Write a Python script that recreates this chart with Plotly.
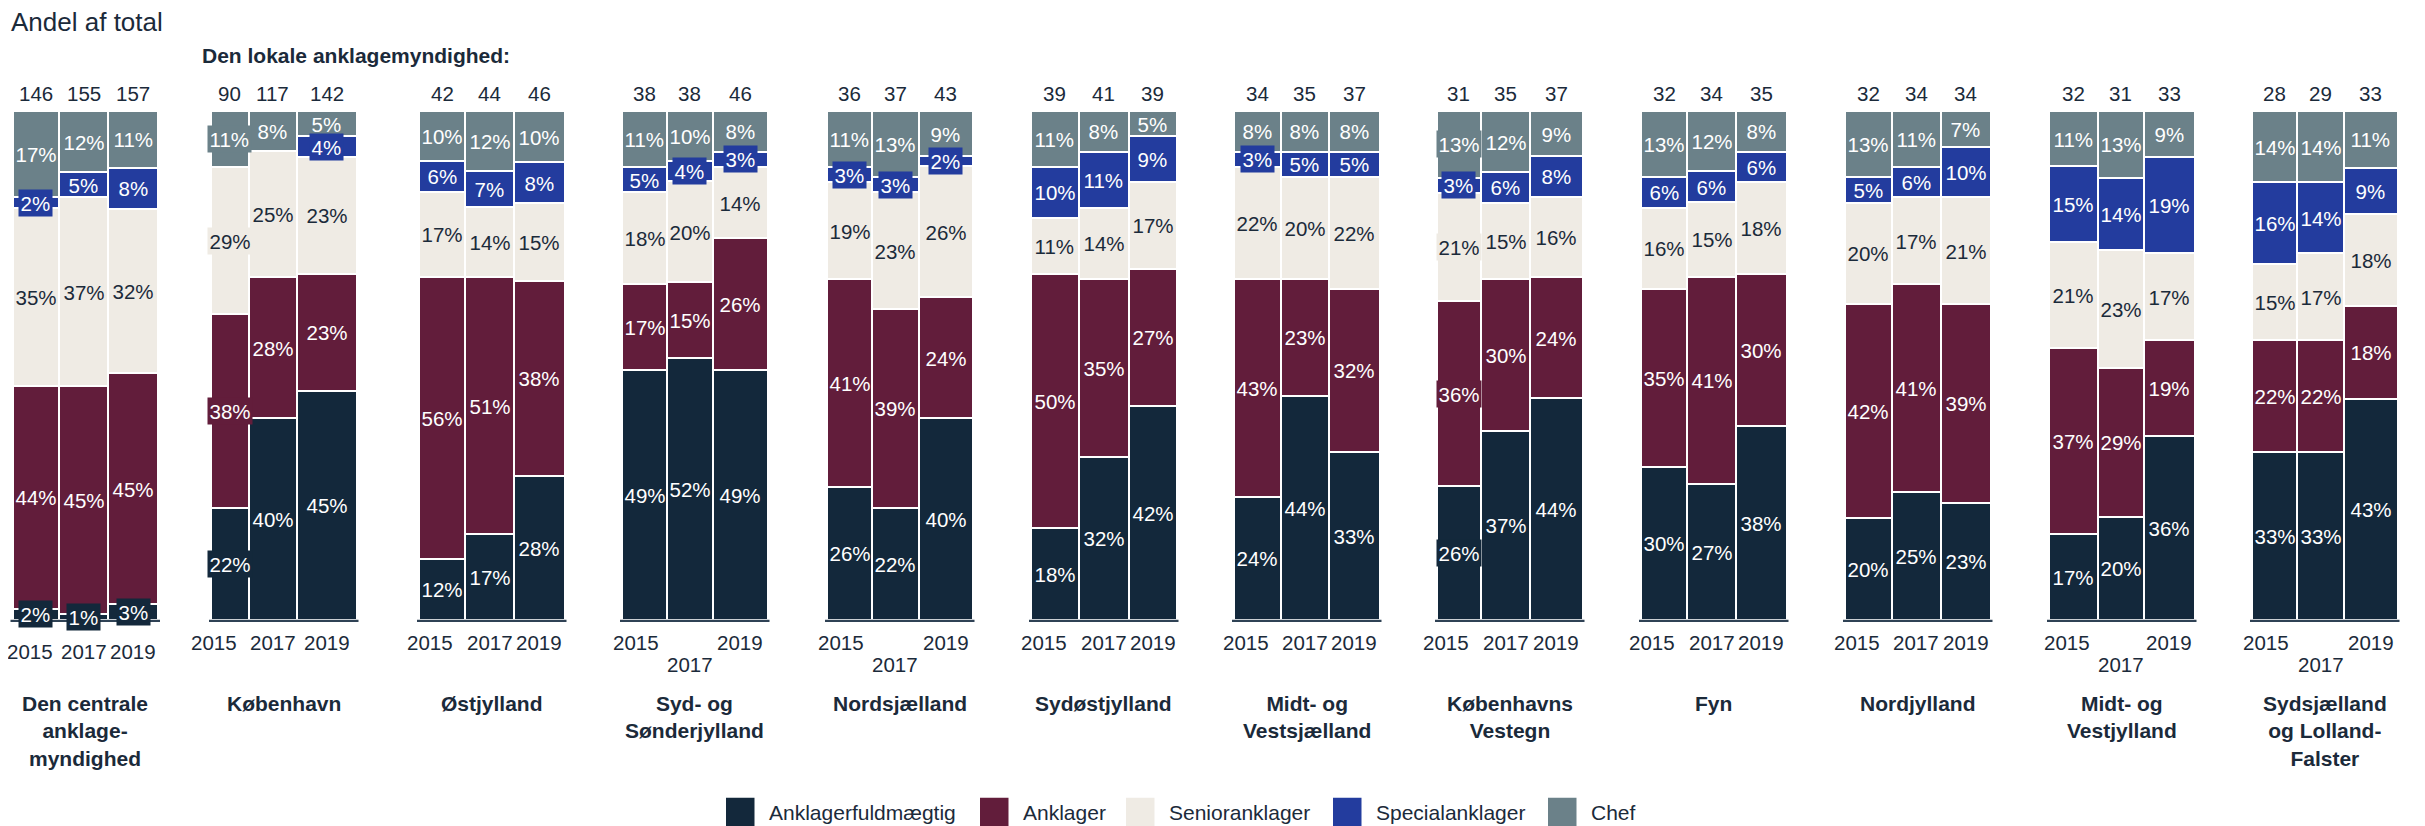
import plotly.graph_objects as go

# ---------------- data ----------------
groups = ["Den centrale<br>anklage-<br>myndighed", "København", "Østjylland",
          "Syd- og<br>Sønderjylland", "Nordsjælland", "Sydøstjylland",
          "Midt- og<br>Vestsjælland", "Københavns<br>Vestegn", "Fyn", "Nordjylland",
          "Midt- og<br>Vestjylland", "Sydsjælland<br>og Lolland-<br>Falster"]
years = ["2015", "2017", "2019"]
totals = [[146, 155, 157], [90, 117, 142], [42, 44, 46], [38, 38, 46], [36, 37, 43],
          [39, 41, 39], [34, 35, 37], [31, 35, 37], [32, 34, 35], [32, 34, 34],
          [32, 31, 33], [28, 29, 33]]

anklagerfuldmaegtig = [[2, 1, 3], [22, 40, 45], [12, 17, 28], [49, 52, 49], [26, 22, 40],
                       [18, 32, 42], [24, 44, 33], [26, 37, 44], [30, 27, 38], [20, 25, 23],
                       [17, 20, 36], [33, 33, 43]]
anklager = [[44, 45, 45], [38, 28, 23], [56, 51, 38], [17, 15, 26], [41, 39, 24],
            [50, 35, 27], [43, 23, 32], [36, 30, 24], [35, 41, 30], [42, 41, 39],
            [37, 29, 19], [22, 22, 18]]
senioranklager = [[35, 37, 32], [29, 25, 23], [17, 14, 15], [18, 20, 14], [19, 23, 26],
                  [11, 14, 17], [22, 20, 22], [21, 15, 16], [16, 15, 18], [20, 17, 21],
                  [21, 23, 17], [15, 17, 18]]
specialanklager = [[2, 5, 8], [0, 0, 4], [6, 7, 8], [5, 4, 3], [3, 3, 2],
                   [10, 11, 9], [3, 5, 5], [3, 6, 8], [6, 6, 6], [5, 6, 10],
                   [15, 14, 19], [16, 14, 9]]
chef = [[17, 12, 11], [11, 8, 5], [10, 12, 10], [11, 10, 8], [11, 13, 9],
        [11, 8, 5], [8, 8, 8], [13, 12, 9], [13, 12, 8], [13, 11, 7],
        [11, 13, 9], [14, 14, 11]]

series_names = ["Anklagerfuldmægtig", "Anklager", "Senioranklager", "Specialanklager", "Chef"]
series_values = [anklagerfuldmaegtig, anklager, senioranklager, specialanklager, chef]

# ---------------- style / layout ----------------
PAGE_W, PAGE_H = 2425, 826
BODY_MARGIN = 8          # default page margin around the plot div
W, H = PAGE_W - BODY_MARGIN, PAGE_H - BODY_MARGIN
FONT = "Liberation Sans, Arial, sans-serif"
TXT = "#1b2a3a"
colors = ["#13283b", "#621d3b", "#efebe4", "#233c9e", "#6b8189"]
label_colors = ["white", "white", TXT, "white", "white"]
FS = 20.5

group_left = [12.5, 211, 419, 622, 827, 1031, 1234, 1437, 1641, 1845, 2049, 2252]
group_w = 145.5
stagger = [False, False, False, True, True, False, False, False, False, False, True, True]

# legend layout (page pixel columns of the swatches)
legend_x = [726, 980, 1126, 1333, 1548]
LEG_SW = 28.5
LEG_TXT_OFF = 42
LEG_Y = 812
LEG_FS = 21

Y0_PX, Y100_PX = 619.5, 111.0
PX_PER = (Y0_PX - Y100_PX) / 100.0


def py(p):
    """page pixel row -> y data value"""
    return (Y0_PX - p) / PX_PER


# bar geometry derived from the totals (width proportional to headcount)
bar_x, bar_w = [], []
for g, tot in enumerate(totals):
    s = sum(tot)
    cum = group_left[g]
    for t in tot:
        w = t / s * group_w
        bar_x.append(cum + w / 2)
        bar_w.append(w)
        cum += w

fig = go.Figure()
for k, name in enumerate(series_names):
    vals = [v for grp in series_values[k] for v in grp]
    fig.add_trace(go.Bar(
        x=bar_x, y=vals, width=bar_w, name=name,
        marker=dict(color=colors[k], line=dict(color="white", width=2)),
        showlegend=False, hoverinfo="skip",
    ))

# legend swatches (drawn as square markers)
fig.add_trace(go.Scatter(
    x=[lx + LEG_SW / 2 for lx in legend_x], y=[py(LEG_Y)] * len(legend_x),
    mode="markers", marker=dict(symbol="square", size=LEG_SW, color=colors,
                                line=dict(width=0)),
    showlegend=False, hoverinfo="skip", cliponaxis=False,
))

annotations = []

# segment labels
for g in range(len(groups)):
    for i in range(3):
        idx = g * 3 + i
        vals = [series_values[k][g][i] for k in range(5)]
        s = sum(vals)
        cum = 0.0
        for k in range(5):
            v = vals[k]
            share = v / s * 100
            if v > 0:
                mid = cum + share / 2
                txt = f"{v}%"
                tw = FS * (0.556 * len(str(v)) + 0.889)
                seg_px = share * PX_PER
                boxed = seg_px < 23.5 or bar_w[idx] < tw + 3.5
                annotations.append(dict(
                    x=bar_x[idx], y=mid, text=txt, showarrow=False,
                    xanchor="center", yanchor="middle",
                    font=dict(family=FONT, size=FS, color=label_colors[k]),
                    bgcolor=colors[k] if boxed else None,
                    borderpad=1.5,
                ))
            cum += share

# totals above bars
for g in range(len(groups)):
    for i in range(3):
        idx = g * 3 + i
        annotations.append(dict(
            x=bar_x[idx], y=py(93.7), text=str(totals[g][i]), showarrow=False,
            xanchor="center", yanchor="middle",
            font=dict(family=FONT, size=FS, color=TXT),
        ))

# year labels
YEAR_W = FS * 0.556 * 4
for g in range(len(groups)):
    row = 651 if g == 0 else 642
    i0 = g * 3
    right1 = bar_x[i0] + bar_w[i0] / 2 - (6 if stagger[g] else 10)
    right1 = max(right1, BODY_MARGIN + 1 + YEAR_W)   # keep inside the page
    annotations.append(dict(
        x=right1, y=py(row), text=years[0], showarrow=False,
        xanchor="right", yanchor="middle", font=dict(family=FONT, size=FS, color=TXT)))
    annotations.append(dict(
        x=bar_x[i0 + 1], y=py(664 if stagger[g] else row), text=years[1], showarrow=False,
        xanchor="center", yanchor="middle", font=dict(family=FONT, size=FS, color=TXT)))
    annotations.append(dict(
        x=bar_x[i0 + 2], y=py(row), text=years[2], showarrow=False,
        xanchor="center", yanchor="middle", font=dict(family=FONT, size=FS, color=TXT)))

# group names
for g, name in enumerate(groups):
    annotations.append(dict(
        x=group_left[g] + group_w / 2, y=py(690), text=name, showarrow=False,
        xanchor="center", yanchor="top", align="center",
        font=dict(family=FONT, size=21, color=TXT, weight="bold")))

# legend texts
for lx, name in zip(legend_x, series_names):
    annotations.append(dict(
        x=lx + LEG_TXT_OFF, y=py(LEG_Y), text=name, showarrow=False,
        xanchor="left", yanchor="middle", borderpad=0,
        font=dict(family=FONT, size=LEG_FS, color=TXT)))

# titles
annotations.append(dict(
    x=9, y=py(22), text="Andel af total", showarrow=False, xanchor="left", yanchor="middle",
    font=dict(family=FONT, size=26, color=TXT)))
annotations.append(dict(
    x=200, y=py(55), text="Den lokale anklagemyndighed:", showarrow=False,
    xanchor="left", yanchor="middle",
    font=dict(family=FONT, size=21, color=TXT, weight="bold")))

# baseline under each group
shapes = []
for g in range(len(groups)):
    shapes.append(dict(
        type="line", xref="x", yref="y",
        x0=group_left[g] - 2, x1=group_left[g] + group_w + 2,
        y0=py(620.8), y1=py(620.8),
        line=dict(color="#2f4255", width=2.3)))

fig.update_layout(
    width=W, height=H,
    margin=dict(l=0, r=0, t=0, b=0),
    paper_bgcolor="white", plot_bgcolor="white",
    barmode="stack", barnorm="percent",
    xaxis=dict(range=[BODY_MARGIN, PAGE_W], visible=False, fixedrange=True),
    yaxis=dict(range=[py(PAGE_H), py(BODY_MARGIN)], visible=False, fixedrange=True),
    annotations=annotations, shapes=shapes,
    showlegend=False,
    font=dict(family=FONT, color=TXT),
)

fig.write_html("out.html")
